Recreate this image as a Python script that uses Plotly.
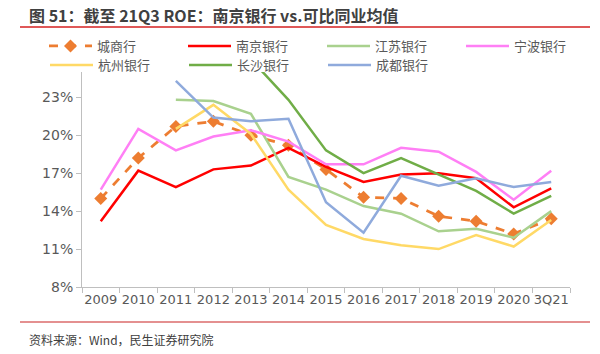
import plotly.graph_objects as go

years = ["2009", "2010", "2011", "2012", "2013", "2014", "2015", "2016", "2017", "2018", "2019", "2020", "3Q21"]

city_avg = [15.0, 18.2, 20.7, 21.1, 20.0, 19.2, 17.3, 15.1, 15.0, 13.6, 13.2, 12.2, 13.4]
nanjing = [13.2, 17.2, 15.9, 17.3, 17.6, 19.0, 17.5, 16.3, 16.9, 17.0, 16.6, 14.3, 15.8]
jiangsu = [None, None, 22.8, 22.7, 21.7, 16.7, 15.7, 14.4, 13.8, 12.4, 12.6, 11.9, 14.0]
ningbo = [15.7, 20.5, 18.8, 19.9, 20.4, 19.5, 17.7, 17.7, 19.0, 18.7, 17.1, 14.9, 17.2]
hangzhou = [None, None, 20.5, 22.4, 20.1, 15.7, 12.9, 11.8, 11.3, 11.0, 12.1, 11.2, 13.3]
changsha = [None, None, None, None, 26.0, 22.8, 18.8, 17.0, 18.2, 16.9, 15.6, 13.8, 15.2]
chengdu = [None, None, 24.3, 21.4, 21.1, 21.3, 14.7, 12.3, 16.8, 16.0, 16.6, 15.9, 16.3]

series_names = ["城商行", "南京银行", "江苏银行", "宁波银行", "杭州银行", "长沙银行", "成都银行"]
series_values = [city_avg, nanjing, jiangsu, ningbo, hangzhou, changsha, chengdu]
series_colors = ["#ED7D31", "#FF0000", "#A9D18E", "#FF7FF5", "#FFD966", "#70AD47", "#8FAADC"]

y_ticks = [8, 11, 14, 17, 20, 23]
y_tick_text = ["8%", "11%", "14%", "17%", "20%", "23%"]

title_text = "图 51：截至 21Q3 ROE：南京银行 vs.可比同业均值"
source_text = "资料来源：Wind，民生证券研究院"

W, H = 600, 354
ML, MR, MT, MB = 82, 30, 72, 67
PW, PH = W - ML - MR, H - MT - MB


def px(x):
    return (x - ML) / PW


def py(y):
    return (H - MB - y) / PH


cjk = "Noto Sans CJK SC"
num_font = "DejaVu Sans"

fig = go.Figure()
for i, (name, vals, col) in enumerate(zip(series_names, series_values, series_colors)):
    lg = "legend" if i < 4 else "legend2"
    if name == "城商行":
        fig.add_trace(go.Scatter(
            x=years, y=vals, name=name, mode="lines+markers", legend=lg,
            line=dict(color=col, width=2.75, dash="dash"),
            marker=dict(symbol="diamond", size=10, color=col),
        ))
    else:
        fig.add_trace(go.Scatter(
            x=years, y=vals, name=name, mode="lines", legend=lg,
            line=dict(color=col, width=2.5),
        ))

legend_common = dict(
    orientation="h", xanchor="left", yanchor="top",
    font=dict(family=cjk, size=13, color="#595959"),
    itemwidth=43, entrywidth=81, entrywidthmode="pixels",
    bgcolor="rgba(0,0,0,0)", tracegroupgap=0, itemclick=False,
)

fig.update_layout(
    width=W, height=H,
    margin=dict(l=ML, r=MR, t=MT, b=MB, pad=0),
    paper_bgcolor="white", plot_bgcolor="white",
    showlegend=True,
    legend=dict(x=px(45), y=py(31), **legend_common),
    legend2=dict(x=px(45), y=py(50), **legend_common),
    xaxis=dict(
        type="category", range=[-0.5, 12.5],
        showline=True, linecolor="#BFBFBF", linewidth=1,
        ticks="outside", tickson="boundaries", ticklen=5, tickcolor="#BFBFBF",
        showgrid=False, zeroline=False, tickangle=0,
        tickfont=dict(family=num_font, size=13, color="#595959"),
    ),
    yaxis=dict(
        range=[8, 25], tickvals=y_ticks, ticktext=y_tick_text,
        showline=True, linecolor="#BFBFBF", linewidth=1,
        ticks="outside", ticklen=5, tickcolor="#BFBFBF",
        showgrid=False, zeroline=False,
        tickfont=dict(family=num_font, size=14, color="#595959"),
    ),
    annotations=[
        dict(text="<b>" + title_text + "</b>", xref="paper", yref="paper",
             x=px(27), y=py(15), xanchor="left", yanchor="middle", showarrow=False,
             font=dict(family=cjk, size=16, color="#404040")),
        dict(text=source_text, xref="paper", yref="paper",
             x=px(27), y=py(339), xanchor="left", yanchor="middle", showarrow=False,
             font=dict(family=cjk, size=12, color="#404040")),
    ],
    shapes=[
        dict(type="line", xref="paper", yref="paper", x0=px(20), x1=px(590), y0=py(27), y1=py(27),
             line=dict(color="#D42020", width=1.5)),
        dict(type="line", xref="paper", yref="paper", x0=px(20), x1=px(590), y0=py(322), y1=py(322),
             line=dict(color="#DB6B6B", width=1.5)),
    ],
)

fig.write_html("out.html")
